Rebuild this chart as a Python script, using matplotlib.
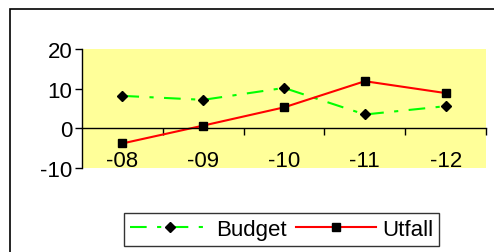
import numpy as np
import matplotlib.pyplot as plt
from matplotlib.patches import Rectangle
from matplotlib.transforms import blended_transform_factory

plt.rcParams['font.family'] = ['Liberation Sans', 'DejaVu Sans']
plt.rcParams['axes.unicode_minus'] = False

categories = ['-08', '-09', '-10', '-11', '-12']
budget = [8.2, 7.2, 10.2, 3.5, 5.6]
utfall = [-3.8, 0.7, 5.3, 11.9, 8.9]

fs = 16

fig = plt.figure(figsize=(4.94, 2.53), dpi=100)
ax = fig.add_axes([0.166, 0.332, 0.818, 0.470])
ax.set_facecolor('#FFFF99')

x = np.arange(len(categories))
ax.plot(x, budget, color='#00FF00', linestyle=(0, (8, 5, 2, 5)), lw=1.5,
        marker='D', ms=5.5, mfc='black', mec='black', label='Budget')
ax.plot(x, utfall, color='#FF0000', lw=1.5,
        marker='s', ms=6, mfc='black', mec='black', label='Utfall')

ax.set_xlim(-0.5, len(categories) - 0.5)
ax.set_ylim(-10, 20)
ax.set_yticks([-10, 0, 10, 20])
ax.tick_params(axis='y', direction='out', length=5, width=1, labelsize=fs, pad=2)

# category axis at zero
for s in ['top', 'right']:
    ax.spines[s].set_visible(False)
ax.spines['bottom'].set_position(('data', 0))
ax.spines['bottom'].set_linewidth(1)
ax.spines['left'].set_linewidth(1)
ax.set_xticks(np.arange(len(categories)) + 0.5)
ax.set_xticklabels([])
ax.tick_params(axis='x', direction='out', length=5, width=1)
trans = blended_transform_factory(ax.transData, ax.transAxes)
for i, c in enumerate(categories):
    ax.text(i, 0.06, c, transform=trans, ha='center', va='center', fontsize=fs)

leg = fig.legend(loc='center', bbox_to_anchor=(0.57, 0.089), ncol=2,
                 fontsize=fs, frameon=True, fancybox=False, handlelength=3.6,
                 columnspacing=0.4, handletextpad=0.3, borderpad=0.25,
                 borderaxespad=0)
leg.get_frame().set_edgecolor('black')
leg.get_frame().set_linewidth(1)

fig.patches.append(Rectangle((10 / 494, -0.1), 1.0, 1 - 10 / 253 + 0.1,
                             transform=fig.transFigure, fill=False,
                             edgecolor='black', lw=1.2))

fig.savefig('out.png', dpi=100)
